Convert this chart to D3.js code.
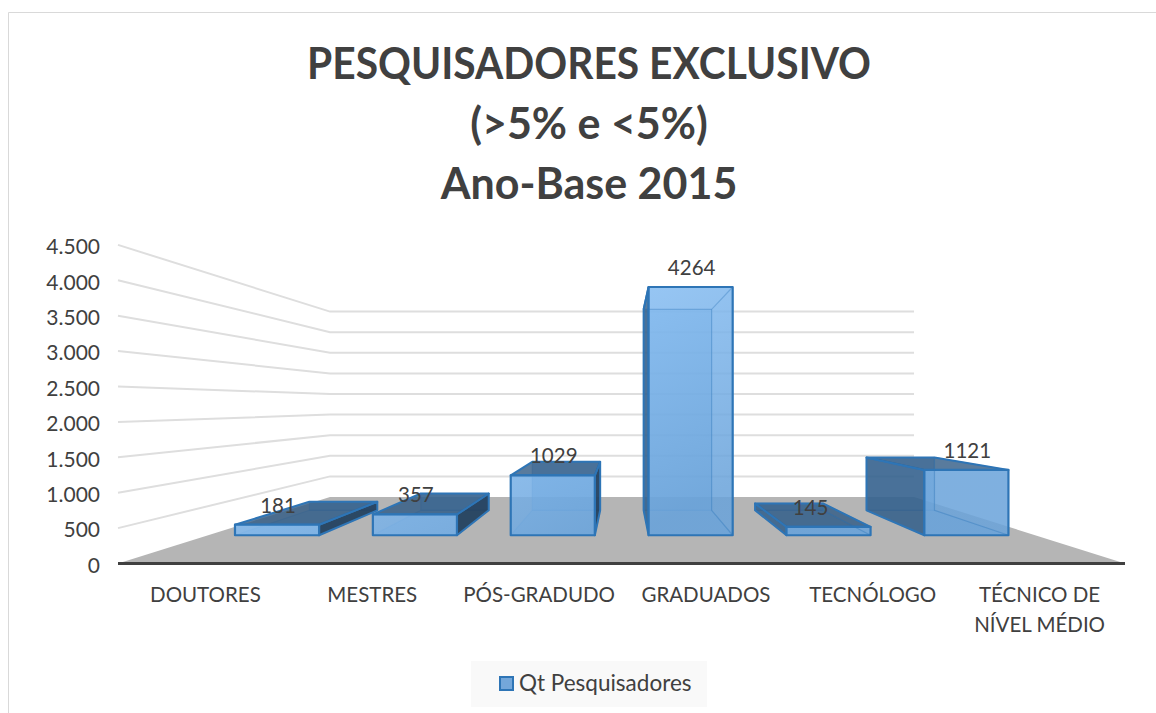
<!DOCTYPE html>
<html>
<head>
<meta charset="utf-8">
<script src="https://cdn.jsdelivr.net/npm/d3@7"></script>
<style>
  html, body { margin: 0; padding: 0; background: #fff; }
  svg { display: block; }
  text { font-family: Lato, "Open Sans", sans-serif; fill: #404040; }
</style>
</head>
<body>
<svg id="chart" width="1156" height="713"></svg>
<script>
const titleLines = ["PESQUISADORES EXCLUSIVO", "(>5% e <5%)", "Ano-Base 2015"];
const categories = ["DOUTORES", "MESTRES", "PÓS-GRADUDO", "GRADUADOS", "TECNÓLOGO", "TÉCNICO DE|NÍVEL MÉDIO"];
const values = [181, 357, 1029, 4264, 145, 1121];
const yTicks = [0, 500, 1000, 1500, 2000, 2500, 3000, 3500, 4000, 4500];
const seriesName = "Qt Pesquisadores";

const width = 1156;
const height = 713;

let svg = d3.select("#chart");

// depth runs from 0 (front edge of the floor) to 1 (back wall)
const leftAt = d3.scaleLinear().domain([0, 1]).range([118, 330]);
const rightAt = d3.scaleLinear().domain([0, 1]).range([1125, 914]);
const floorAt = d3.scaleLinear().domain([0, 1]).range([563.5, 497]);
const unitAt = d3.scaleLinear().domain([0, 1]).range([35.4 / 500, 20.6 / 500]);

const barFront = 0.425;
const barBack = 0.8;

const xBand = d3.scaleBand().domain(categories).range([0, 1]).paddingInner(0.39).paddingOuter(0.195);
const yFront = d3.scaleLinear().domain([0, 4500]).range([floorAt(0), floorAt(0) - 4500 * unitAt(0)]);
const yBack = d3.scaleLinear().domain([0, 4500]).range([floorAt(1), floorAt(1) - 4500 * unitAt(1)]);

function project(u, value, depth) {
  let x = leftAt(depth) + u * (rightAt(depth) - leftAt(depth));
  let y = floorAt(depth) - value * unitAt(depth);
  return [x, y];
}

const polyLine = d3.line();

// page frame
svg.append("path")
  .attr("d", "M8.5," + height + "V12.5H" + width)
  .attr("fill", "none")
  .attr("stroke", "#d9d9d9");

// title, first line is narrower in the reference than the font gives
svg.append("g")
  .selectAll("text")
  .data(titleLines)
  .enter()
  .append("text")
  .attr("x", 589)
  .attr("y", (d, i) => 79 + i * 60)
  .attr("text-anchor", "middle")
  .attr("font-size", 43)
  .attr("font-weight", 700)
  .attr("textLength", (d, i) => (i === 0 ? 564 : null))
  .attr("lengthAdjust", "spacingAndGlyphs")
  .text((d) => d);

// floor
svg.append("path")
  .attr("d", polyLine([project(0, 0, 0), project(0, 0, 1), project(1, 0, 1), project(1, 0, 0)]) + "Z")
  .attr("fill", "#b5b5b5");

// gridlines on left wall and back wall
svg.append("g")
  .selectAll("path")
  .data(yTicks.filter((d) => d > 0))
  .enter()
  .append("path")
  .attr("d", (d) => polyLine([[leftAt(0), yFront(d)], [leftAt(1), yBack(d)], [rightAt(1), yBack(d)]]))
  .attr("fill", "none")
  .attr("stroke", "#dedede")
  .attr("stroke-width", 2);

// bars
let defs = svg.append("defs");
let grad = defs.append("linearGradient")
  .attr("id", "frontFill")
  .attr("gradientUnits", "userSpaceOnUse")
  .attr("x1", 640).attr("y1", 285)
  .attr("x2", 740).attr("y2", 480);
grad.append("stop").attr("offset", 0).attr("stop-color", "#86bdf2");
grad.append("stop").attr("offset", 1).attr("stop-color", "#6aa3da");

const edge = "#2e75b6";

let bars = svg.append("g")
  .selectAll("g")
  .data(categories.map((c, i) => ({ name: c, value: values[i] })))
  .enter()
  .append("g");

bars.each(function (d) {
  let g = d3.select(this);
  let u0 = xBand(d.name);
  let u1 = u0 + xBand.bandwidth();

  let f00 = project(u0, 0, barFront);
  let f10 = project(u1, 0, barFront);
  let f11 = project(u1, d.value, barFront);
  let f01 = project(u0, d.value, barFront);
  let b00 = project(u0, 0, barBack);
  let b10 = project(u1, 0, barBack);
  let b11 = project(u1, d.value, barBack);
  let b01 = project(u0, d.value, barBack);

  function face(points, fill, alpha, strokeAlpha, strokeWidth) {
    g.append("path")
      .attr("d", polyLine(points) + "Z")
      .attr("fill", fill)
      .attr("fill-opacity", alpha)
      .attr("stroke", edge)
      .attr("stroke-opacity", strokeAlpha)
      .attr("stroke-width", strokeWidth)
      .attr("stroke-linejoin", "round");
  }

  function edgeLine(points, strokeAlpha, strokeWidth) {
    g.append("path")
      .attr("d", polyLine(points))
      .attr("fill", "none")
      .attr("stroke", edge)
      .attr("stroke-opacity", strokeAlpha)
      .attr("stroke-width", strokeWidth);
  }

  // inner faces first, only the outlines show through the front
  face([b00, b10, b11, b01], "#5b9bd5", 0.5, 0.3, 1.2);
  face([f00, f10, b10, b00], "#5b9bd5", 0.3, 0.3, 1.2);

  let leftOut = b00[0] < f00[0];
  let rightOut = b10[0] > f10[0];
  let topOut = b01[1] < f01[1];

  if (leftOut) {
    face([f00, f01, b01, b00], "#2f5a84", 0.8, 1, 2);
  }
  if (rightOut) {
    face([f10, f11, b11, b10], "#223f5c", 0.92, 1, 2);
  }
  if (topOut) {
    face([f01, f11, b11, b01], "#2f5a84", 0.8, 1, 2);
  }

  face([f00, f10, f11, f01], "url(#frontFill)", 0.86, 1, 2.2);

  if (!rightOut) {
    edgeLine([f11, b11, b10, f10], 0.35, 1.2);
  }
  if (!topOut) {
    edgeLine([b01, b11], 0.3, 1.2);
    edgeLine([f01, b01], 1, 2);
  }
});

// value labels, the Tecnólogo one sits off to the left
bars.append("text")
  .attr("x", (d) => {
    let u = xBand(d.name) + xBand.bandwidth() / 2;
    return project(u, d.value, barFront)[0] + (d.value === 145 ? -18 : 1);
  })
  .attr("y", (d) => project(0, d.value, barFront)[1] - 12)
  .attr("text-anchor", "middle")
  .attr("font-size", 20.5)
  .text((d) => d.value);

// y axis
const ptBr = d3.formatLocale({ decimal: ",", thousands: ".", grouping: [3], currency: ["R$", ""] });
let yAxis = svg.append("g")
  .attr("transform", "translate(108,2)")
  .call(d3.axisLeft(yFront).tickValues(yTicks).tickSize(0).tickPadding(8).tickFormat(ptBr.format(",d")));
yAxis.select(".domain").remove();
yAxis.selectAll("text")
  .attr("font-size", 21)
  .attr("font-family", null);

// x axis, labels sit slightly inside the floor edge
const xAxisScale = d3.scaleBand().domain(categories).range([122, 1123]);
let xAxis = svg.append("g")
  .attr("transform", "translate(0," + floorAt(0) + ")")
  .call(d3.axisBottom(xAxisScale).tickSize(0).tickFormat(""));
xAxis.select(".domain")
  .attr("d", "M" + leftAt(0) + ",0H" + rightAt(0))
  .attr("stroke", "#404040")
  .attr("stroke-width", 3);
xAxis.selectAll(".tick text").each(function (d) {
  let t = d3.select(this).text(null).attr("font-size", 20.5).attr("y", 0).attr("dy", null);
  d.split("|").forEach((line, i) => {
    t.append("tspan").attr("x", 0).attr("y", 38 + i * 30).text(line);
  });
});

// legend
let legend = svg.append("g");
legend.append("rect")
  .attr("x", 471).attr("y", 661)
  .attr("width", 236).attr("height", 46)
  .attr("fill", "#f9f9f9");
legend.append("rect")
  .attr("x", 500).attr("y", 677)
  .attr("width", 13).attr("height", 13)
  .attr("fill", "#74a7da")
  .attr("stroke", edge)
  .attr("stroke-width", 2);
legend.append("text")
  .attr("x", 519).attr("y", 691)
  .attr("font-size", 22.5)
  .text(seriesName);
</script>
</body>
</html>
